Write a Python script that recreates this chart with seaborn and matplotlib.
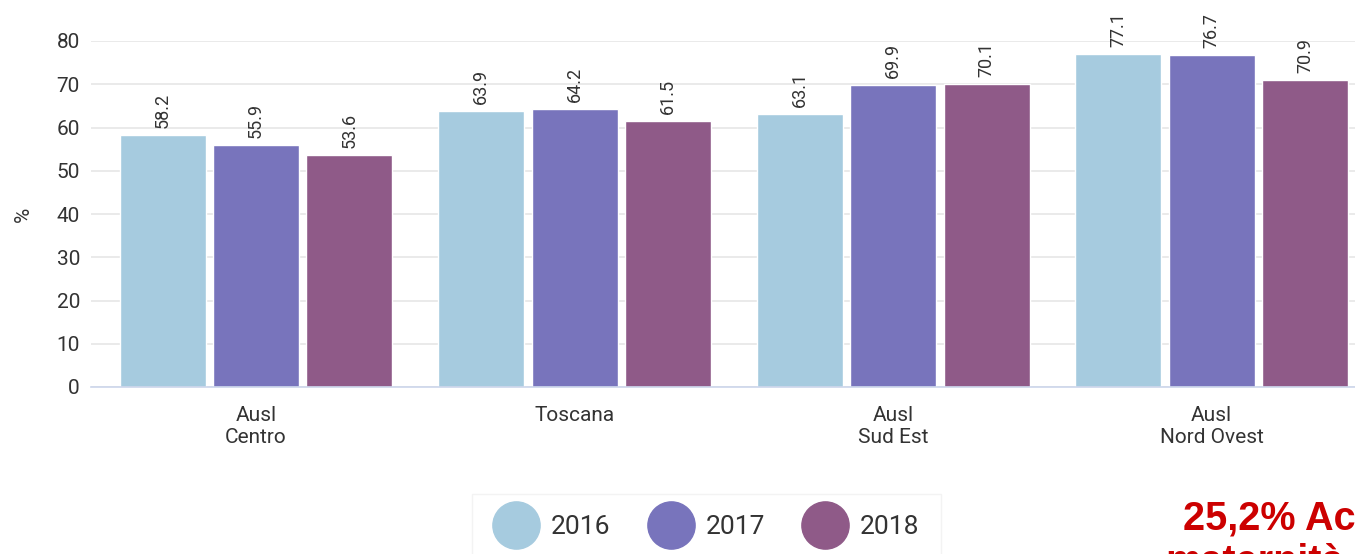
import numpy as np
import pandas as pd
import matplotlib
matplotlib.use("Agg")
import matplotlib.pyplot as plt
import seaborn as sns
from matplotlib.lines import Line2D

# data
areas = ["Ausl\nCentro", "Toscana", "Ausl\nSud Est", "Ausl\nNord Ovest"]
years = ["2016", "2017", "2018"]
v2016 = [58.2, 63.9, 63.1, 77.1]
v2017 = [55.9, 64.2, 69.9, 76.7]
v2018 = [53.6, 61.5, 70.1, 70.9]
colors = ["#a6cbdf", "#7874bc", "#8f5a88"]

df = pd.DataFrame({"area": areas * 3,
                   "year": [y for y in years for _ in areas],
                   "value": v2016 + v2017 + v2018})

sns.set_style("white")
plt.rcParams['font.family'] = ['Roboto', 'DejaVu Sans']

fig = plt.figure(figsize=(13.55, 5.54), dpi=100)
ax = fig.add_axes([91/1355, 1 - 387/554, 1280/1355, 346/554])

sns.barplot(data=df, x="area", y="value", hue="year", order=areas,
            hue_order=years, palette=colors, width=0.88, gap=0.08,
            saturation=1, legend=False, ax=ax)

# value labels
for cont in ax.containers:
    ax.bar_label(cont, labels=[f"{b.get_height():.1f}" for b in cont],
                 rotation=90, padding=5, fontsize=13, color="#333333",
                 clip_on=False)

x0 = -0.518
ax.set_ylim(0, 80)
ax.set_xlim(x0, 3.5)
ax.set_yticks(range(0, 81, 10))
ax.yaxis.grid(True, color="#e6e6e6", linewidth=1.2)
ax.set_axisbelow(True)
ax.tick_params(axis="y", length=0, labelsize=15, labelcolor="#333333", pad=8)
ax.tick_params(axis="x", length=0, labelsize=15, labelcolor="#333333", pad=14)
ax.set_xticks([x0, 0.5, 1.5, 2.5], minor=True)
ax.tick_params(axis="x", which="minor", length=6, color="#ccd6eb", width=1.2)
ax.set_xlabel("")
ax.set_ylabel("%", fontsize=15, color="#333333", labelpad=17)
for side in ["top", "right", "left"]:
    ax.spines[side].set_visible(False)
ax.spines["bottom"].set_color("#ccd6eb")
ax.spines["bottom"].set_linewidth(1.2)

# legend with round markers
handles = [Line2D([], [], marker="o", linestyle="", markersize=34,
                  markerfacecolor=c, markeredgecolor=c) for c in colors]
leg = fig.legend(handles, years, loc="upper left",
                 bbox_to_anchor=(472/1355, 1 - 494/554), ncol=3,
                 fontsize=19, frameon=True, handletextpad=0.45,
                 columnspacing=1.4, borderpad=0.8, borderaxespad=0,
                 fancybox=False, handlelength=1.75)
leg.get_frame().set_edgecolor("#f0f0f0")
leg.get_frame().set_linewidth(1)
for t in leg.get_texts():
    t.set_color("#333333")

# clipped red note at the bottom right
fig.text(1183/1355, 1 - 530/554, "25,2% Accessi", fontsize=28.5,
         fontweight="bold", color="#cc0000",
         family=["Liberation Sans", "DejaVu Sans"],
         ha="left", va="baseline")
fig.text(1165/1355, 1 - 573/554, "maternità", fontsize=28.5,
         fontweight="bold", color="#cc0000",
         family=["Liberation Sans", "DejaVu Sans"],
         ha="left", va="baseline")

fig.savefig("out.png", dpi=100)
